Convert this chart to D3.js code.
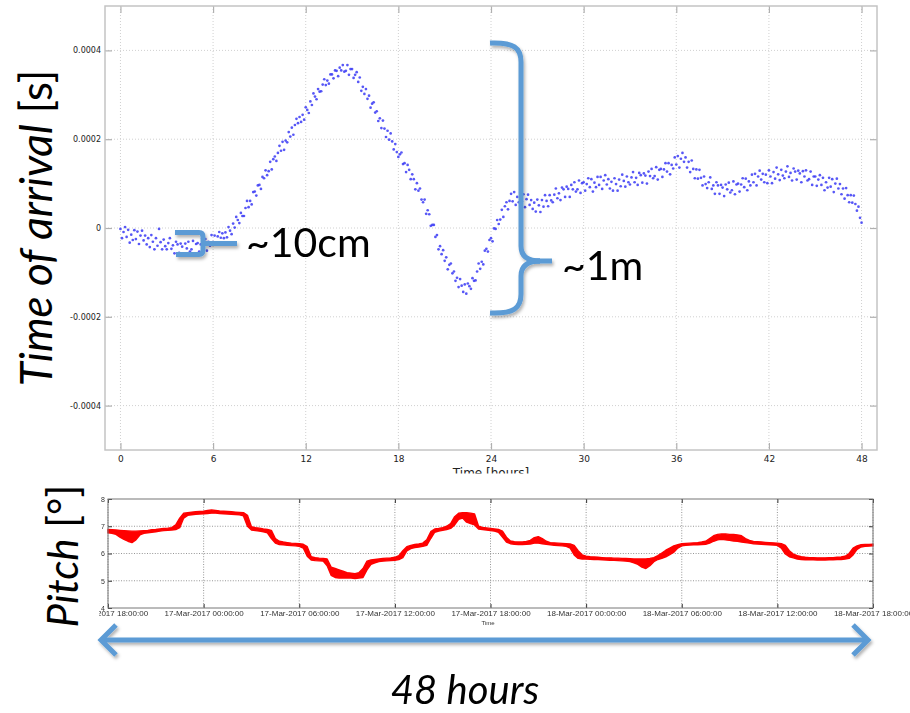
<!DOCTYPE html>
<html>
<head>
<meta charset="utf-8">
<script src="https://cdn.jsdelivr.net/npm/d3@7"></script>
<style>
  html, body { margin: 0; padding: 0; background: #fff; }
  svg { display: block; }
  text { white-space: pre; }
</style>
</head>
<body>
<svg id="fig" width="910" height="713"></svg>
<script>
// ---- Time of arrival residuals: one sample every 0.1 h over 48 h, in microseconds ----
const toaStepHours = 0.1;
const toaMicroseconds = [
  -2,-23,-9,2,-20,-4,-33,-15,-27,-5,
  -25,-8,-36,-17,-6,-28,-17,-37,-23,-43,
  -16,-31,-48,-23,-40,-2,-32,-48,-26,-41,
  -48,-34,-23,-47,-39,-57,-31,-37,-56,-35,
  -42,-61,-35,-46,-31,-53,-48,-29,-57,-36,
  -34,-53,-37,-23,-43,-25,-51,-31,-40,-16,
  -32,-17,-35,-19,-9,-22,-12,-23,-10,-21,
  2,-6,-14,10,1,25,18,11,34,27,
  27,45,61,47,61,53,81,82,73,96,
  97,88,115,112,130,119,128,149,132,155,
  161,151,169,185,174,194,176,197,193,216,
  206,226,210,232,246,236,250,239,255,244,
  272,266,259,285,277,303,296,290,313,307,
  308,323,335,322,332,325,346,346,337,355,
  354,342,361,355,367,352,354,367,345,358,
  358,338,345,351,329,339,309,318,302,313,
  291,298,271,280,283,260,263,241,247,225,
  242,224,205,219,199,213,195,177,189,171,
  160,166,170,144,146,126,142,131,110,121,
  110,87,101,84,89,64,58,64,32,40,
  31,5,7,7,-20,-16,-48,-41,-59,-50,
  -74,-66,-93,-83,-80,-102,-98,-119,-112,-133,
  -115,-130,-144,-127,-148,-125,-131,-137,-113,-119,
  -118,-98,-80,-92,-76,-82,-51,-47,-53,-27,
  -23,-30,-1,-2,18,9,19,41,25,49,
  58,42,61,77,60,81,52,70,58,80,
  60,76,47,65,75,52,63,43,57,37,
  64,51,36,63,48,74,61,49,74,62,
  58,75,89,67,78,63,91,87,70,93,
  88,70,97,87,103,82,87,107,79,101,
  103,84,99,112,92,110,82,102,92,115,
  97,115,88,107,119,98,110,89,104,84,
  112,99,84,109,94,120,106,93,116,103,
  98,114,126,103,113,97,124,119,102,123,
  118,100,127,117,133,112,117,137,109,131,
  133,115,132,146,127,146,121,142,134,159,
  143,162,136,156,169,149,159,136,149,126,
  152,133,112,132,111,131,113,96,116,99,
  90,103,114,88,96,77,103,96,77,97,
  91,72,98,87,102,80,85,105,76,98,
  100,82,98,112,92,111,85,105,96,120,
  103,122,96,116,129,109,122,103,120,101,
  130,116,101,126,111,136,121,108,131,118,
  112,127,139,115,124,107,134,127,109,129,
  123,103,128,116,130,107,110,127,97,116,
  116,95,109,119,97,113,85,103,91,113,
  93,110,81,100,111,89,99,76,89,66,
  90,74,58,74,57,73,54,39,48,23,
  12
];
const toaXTicks = [0, 6, 12, 18, 24, 30, 36, 42, 48];
const toaYTicks = [-400, -200, 0, 200, 400];
const toaYTickLabels = ["-0.0004", "-0.0002", "0", "0.0002", "0.0004"];

// ---- Pitch: lower / upper edge of the measured band, 15-minute steps ----
const pitchStart = "2017-03-16T18:00:00Z";
const pitchStepMinutes = 15;
const pitchLow = [
  6.76,6.74,6.70,6.60, 6.52,6.45,6.40,6.50, 6.68,6.74,6.76,6.78, 6.80,6.82,6.84,6.85,
  6.86,6.88,6.95,7.30, 7.40,7.42,7.44,7.45, 7.46,7.47,7.48,7.48, 7.47,7.46,7.45,7.44,
  7.43,7.42,7.38,7.00, 6.86,6.84,6.82,6.80, 6.76,6.55,6.38,6.33, 6.32,6.30,6.29,6.28,
  6.26,6.20,5.90,5.76, 5.74,5.73,5.72,5.55, 5.20,5.12,5.10,5.10, 5.10,5.10,5.08,5.10,
  5.12,5.40,5.60,5.66, 5.70,5.72,5.73,5.74, 5.75,5.78,5.85,6.10, 6.18,6.22,6.24,6.26,
  6.30,6.55,6.78,6.82, 6.85,6.88,6.92,7.05, 7.25,7.30,7.15,7.10, 7.05,6.90,6.88,6.86,
  6.84,6.82,6.78,6.60, 6.42,6.36,6.34,6.33, 6.33,6.34,6.35,6.38, 6.38,6.36,6.34,6.32,
  6.30,6.29,6.28,6.26, 6.20,5.95,5.82,5.80, 5.80,5.79,5.78,5.78, 5.77,5.76,5.75,5.75,
  5.74,5.73,5.72,5.70, 5.66,5.60,5.50,5.45, 5.55,5.70,5.78,5.82, 5.88,5.96,6.05,6.20,
  6.28,6.30,6.31,6.32, 6.32,6.33,6.34,6.38, 6.45,6.50,6.52,6.50, 6.48,6.46,6.45,6.42,
  6.40,6.38,6.36,6.35, 6.34,6.33,6.32,6.31, 6.30,6.20,5.98,5.88, 5.84,5.80,5.78,5.77,
  5.77,5.77,5.76,5.76, 5.76,5.77,5.77,5.78, 5.78,5.80,5.82,5.95, 6.15,6.24,6.26,6.27,
  6.28
];
const pitchHigh = [
  6.88,6.87,6.86,6.85, 6.84,6.83,6.82,6.82, 6.83,6.84,6.85,6.87, 6.88,6.90,6.92,6.93,
  6.95,7.05,7.30,7.48, 7.50,7.52,7.53,7.54, 7.55,7.58,7.60,7.58, 7.56,7.55,7.54,7.53,
  7.52,7.51,7.50,7.40, 6.98,6.95,6.93,6.90, 6.88,6.85,6.55,6.45, 6.42,6.40,6.38,6.37,
  6.36,6.34,6.25,5.88, 5.85,5.83,5.82,5.80, 5.50,5.45,5.40,5.35, 5.30,5.28,5.26,5.30,
  5.45,5.72,5.76,5.78, 5.80,5.82,5.83,5.84, 5.86,5.92,6.10,6.25, 6.30,6.33,6.35,6.38,
  6.50,6.80,6.90,6.92, 6.95,7.00,7.10,7.35, 7.48,7.50,7.50,7.48, 7.45,7.00,6.96,6.94,
  6.92,6.90,6.88,6.82, 6.60,6.46,6.43,6.42, 6.42,6.44,6.48,6.58, 6.62,6.55,6.45,6.40,
  6.39,6.38,6.37,6.36, 6.35,6.30,6.10,5.95, 5.90,5.88,5.87,5.86, 5.85,5.84,5.84,5.83,
  5.83,5.82,5.82,5.81, 5.80,5.80,5.80,5.80, 5.82,5.85,5.92,6.02, 6.12,6.20,6.28,6.32,
  6.36,6.37,6.38,6.39, 6.40,6.42,6.45,6.55, 6.65,6.70,6.72,6.72, 6.70,6.70,6.68,6.65,
  6.55,6.48,6.44,6.43, 6.42,6.41,6.40,6.39, 6.38,6.36,6.30,6.10, 5.98,5.92,5.88,5.86,
  5.85,5.85,5.84,5.84, 5.84,5.85,5.85,5.86, 5.87,5.90,6.00,6.20, 6.28,6.32,6.33,6.33,
  6.34
];
const pitchYTicks = [4, 5, 6, 7, 8];

// ---------------------------------------------------------------------------
const svg = d3.select("#fig");
const defs = svg.append("defs");

const shadow = defs.append("filter").attr("id", "shadow")
  .attr("x", "-20%").attr("y", "-20%").attr("width", "140%").attr("height", "160%");
shadow.append("feDropShadow").attr("dx", 1.5).attr("dy", 2.5)
  .attr("stdDeviation", 1.6).attr("flood-color", "#000").attr("flood-opacity", 0.3);

const soft = defs.append("filter").attr("id", "soft");
soft.append("feGaussianBlur").attr("stdDeviation", 0.45);

defs.append("clipPath").attr("id", "pitchClip")
  .append("rect").attr("x", 99.5).attr("y", 474).attr("width", 811).attr("height", 160);

// ===== Upper panel: time of arrival =====
const A = { l: 105, r: 877, t: 6, b: 450 };
const xA = d3.scaleLinear().domain([-1, 49]).range([A.l, A.r]);
const yA = d3.scaleLinear().domain([-500, 500]).range([A.b, A.t]);

const gA = svg.append("g");
gA.append("rect").attr("x", A.l).attr("y", A.t)
  .attr("width", A.r - A.l).attr("height", A.b - A.t).attr("fill", "#fff");

// dotted grid
gA.append("g").selectAll("line").data(toaXTicks).join("line")
  .attr("x1", d => xA(d)).attr("x2", d => xA(d)).attr("y1", A.t).attr("y2", A.b)
  .attr("stroke", "#d0d0d0").attr("stroke-width", 1).attr("stroke-dasharray", "1,2");
gA.append("g").selectAll("line").data(toaYTicks).join("line")
  .attr("y1", d => yA(d)).attr("y2", d => yA(d)).attr("x1", A.l).attr("x2", A.r)
  .attr("stroke", "#d0d0d0").attr("stroke-width", 1).attr("stroke-dasharray", "1,2");

function styleAxis(g, color) {
  g.select(".domain").remove();
  g.selectAll(".tick line").attr("stroke", color).attr("stroke-width", 1.2);
  g.selectAll(".tick text").attr("fill", "#222")
    .style("font-family", "'DejaVu Sans', sans-serif");
}

gA.append("g").attr("transform", `translate(0,${A.b})`)
  .call(d3.axisBottom(xA).tickValues(toaXTicks).tickSizeInner(-7).tickSizeOuter(0).tickPadding(6))
  .call(g => styleAxis(g, "#b0b0b0"))
  .selectAll(".tick text").style("font-size", "9px");
gA.append("g").attr("transform", `translate(0,${A.t})`)
  .call(d3.axisTop(xA).tickValues(toaXTicks).tickSizeInner(-7).tickSizeOuter(0).tickFormat(""))
  .call(g => styleAxis(g, "#b0b0b0"));
gA.append("g").attr("transform", `translate(${A.l},0)`)
  .call(d3.axisLeft(yA).tickValues(toaYTicks).tickSizeInner(-7).tickSizeOuter(0).tickPadding(4)
    .tickFormat((d, i) => toaYTickLabels[i]))
  .call(g => styleAxis(g, "#b0b0b0"))
  .selectAll(".tick text").style("font-size", "8px");
gA.append("g").attr("transform", `translate(${A.r},0)`)
  .call(d3.axisRight(yA).tickValues(toaYTicks).tickSizeInner(-7).tickSizeOuter(0).tickFormat(""))
  .call(g => styleAxis(g, "#b0b0b0"));

gA.append("rect").attr("x", A.l).attr("y", A.t)
  .attr("width", A.r - A.l).attr("height", A.b - A.t)
  .attr("fill", "none").attr("stroke", "#c4c4c4").attr("stroke-width", 1.5);

// samples
gA.append("g").selectAll("circle").data(toaMicroseconds).join("circle")
  .attr("cx", (d, i) => xA(i * toaStepHours))
  .attr("cy", d => yA(d))
  .attr("r", 1.35)
  .attr("fill", "#3a3af5")
  .attr("fill-opacity", 0.85);

gA.append("text").attr("x", 491).attr("y", 477).attr("text-anchor", "middle")
  .style("font-family", "'DejaVu Sans', sans-serif").style("font-size", "12px")
  .attr("fill", "#222").text("Time [hours]");

// the lower panel sits on top of the upper one
svg.append("rect").attr("x", 95).attr("y", 473.5).attr("width", 815).attr("height", 240).attr("fill", "#fff");

// ===== Lower panel: pitch =====
const B = { l: 108, r: 873, t: 499, b: 608 };
const t0 = new Date(pitchStart);
const t1 = d3.utcHour.offset(t0, 48);
const xB = d3.scaleUtc().domain([t0, t1]).range([B.l, B.r]);
const yB = d3.scaleLinear().domain([4, 8]).range([B.b, B.t]);
const xBTicks = xB.ticks(d3.utcHour.every(6));
const fmt = d3.utcFormat("%d-%b-%Y %H:%M:%S");
const tAt = i => d3.utcMinute.offset(t0, i * pitchStepMinutes);

const gB = svg.append("g").attr("clip-path", "url(#pitchClip)")
  .append("g").attr("filter", "url(#soft)");

gB.append("g").selectAll("line").data(xBTicks).join("line")
  .attr("x1", d => xB(d)).attr("x2", d => xB(d)).attr("y1", B.t).attr("y2", B.b)
  .attr("stroke", "#8a8a8a").attr("stroke-width", 0.9).attr("stroke-dasharray", "1,1.6");
gB.append("g").selectAll("line").data(pitchYTicks.slice(1, -1)).join("line")
  .attr("y1", d => yB(d)).attr("y2", d => yB(d)).attr("x1", B.l).attr("x2", B.r)
  .attr("stroke", "#8a8a8a").attr("stroke-width", 0.9).attr("stroke-dasharray", "1,1.6");

const band = d3.area()
  .x((d, i) => xB(tAt(i)))
  .y0((d, i) => yB(pitchLow[i]))
  .y1((d, i) => yB(pitchHigh[i]));
gB.append("path").datum(pitchLow).attr("d", band)
  .attr("fill", "#ff0000").attr("stroke", "#ff0000").attr("stroke-width", 1.4)
  .attr("stroke-linejoin", "round");

function styleB(g) {
  g.select(".domain").remove();
  g.selectAll(".tick line").attr("stroke", "#333").attr("stroke-width", 1);
  g.selectAll(".tick text").attr("fill", "#333")
    .style("font-family", "'Liberation Sans', Arial, sans-serif");
}
gB.append("g").attr("transform", `translate(0,${B.b})`)
  .call(d3.axisBottom(xB).tickValues(xBTicks).tickSizeInner(-4).tickSizeOuter(0).tickPadding(2)
    .tickFormat(fmt))
  .call(styleB)
  .selectAll(".tick text").style("font-size", "8px");
gB.append("g").attr("transform", `translate(0,${B.t})`)
  .call(d3.axisTop(xB).tickValues(xBTicks).tickSizeInner(-4).tickSizeOuter(0).tickFormat(""))
  .call(styleB);
gB.append("g").attr("transform", `translate(${B.l},0)`)
  .call(d3.axisLeft(yB).tickValues(pitchYTicks).tickSizeInner(-4).tickSizeOuter(0).tickPadding(3)
    .tickFormat(d3.format("d")))
  .call(styleB)
  .selectAll(".tick text").style("font-size", "7px");
gB.append("g").attr("transform", `translate(${B.r},0)`)
  .call(d3.axisRight(yB).tickValues(pitchYTicks).tickSizeInner(-4).tickSizeOuter(0).tickFormat(""))
  .call(styleB);

gB.append("rect").attr("x", B.l).attr("y", B.t)
  .attr("width", B.r - B.l).attr("height", B.b - B.t)
  .attr("fill", "none").attr("stroke", "#777").attr("stroke-width", 1);

gB.append("text").attr("x", 488).attr("y", 625).attr("text-anchor", "middle")
  .style("font-family", "'Liberation Sans', Arial, sans-serif").style("font-size", "6px")
  .attr("fill", "#333").text("Time");

// ===== Axis titles =====
const titleFont = "Lato, 'Open Sans', sans-serif";
svg.append("text")
  .attr("transform", "translate(52,228) rotate(-90)")
  .attr("text-anchor", "middle")
  .style("font-family", titleFont).style("font-size", "44px").attr("fill", "#000")
  .call(t => {
    t.append("tspan").style("font-style", "italic").text("Time of arrival");
    t.append("tspan").text(" [s]");
  });
svg.append("text")
  .attr("transform", "translate(78,556) rotate(-90)")
  .attr("text-anchor", "middle")
  .style("font-family", titleFont).style("font-size", "42px").attr("fill", "#000")
  .call(t => {
    t.append("tspan").style("font-style", "italic").text("Pitch");
    t.append("tspan").text(" [°]");
  });

// ===== Annotations =====
const blue = "#5b9bd5";
const ann = svg.append("g").attr("filter", "url(#shadow)")
  .attr("fill", "none").attr("stroke", blue).attr("stroke-width", 5);

// small bracket around the early scatter
ann.append("path").attr("d", "M175,232.5 L199,232.5 Q203,232.5 203,237 L203,250 Q203,254.5 199,254.5 L176,254.5");
ann.append("path").attr("d", "M203,243.5 L237,243.5");

// large brace spanning the whole swing
ann.append("path").attr("d", "M490,43 C514,42 521,48 521,62 L521,246 C521,256 527,261 540,261");
ann.append("path").attr("d", "M490,313 C514,314 521,308 521,294 L521,276 C521,266 527,261 540,261");
ann.append("path").attr("d", "M530,261 L552,261");

// 48-hour span arrow
ann.append("path").attr("d", "M101,640 L868,640");
ann.append("path").attr("d", "M116,625 L101,640 L116,655").attr("stroke-linejoin", "miter");
ann.append("path").attr("d", "M853,625 L868,640 L853,655").attr("stroke-linejoin", "miter");

const annText = svg.append("g").style("font-family", titleFont).attr("fill", "#000");
annText.append("text").attr("x", 246).attr("y", 257).style("font-size", "41px").text("~10cm");
annText.append("text").attr("x", 562).attr("y", 280).style("font-size", "41px").text("~1m");
annText.append("text").attr("x", 465).attr("y", 704).attr("text-anchor", "middle")
  .style("font-size", "40px").style("font-style", "italic").text("48 hours");
</script>
</body>
</html>
